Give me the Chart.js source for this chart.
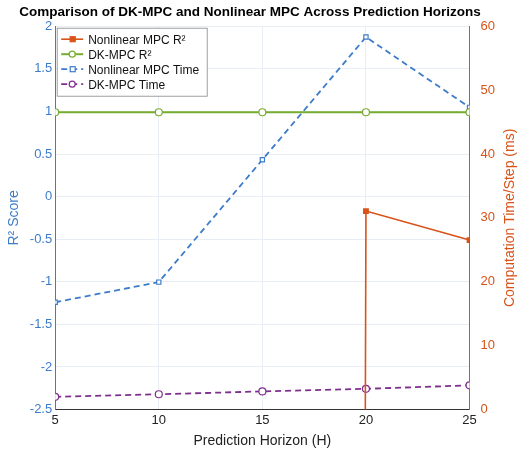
<!DOCTYPE html>
<html><head><meta charset="utf-8">
<script src="https://cdn.jsdelivr.net/npm/chart.js@4"></script>
<style>html,body{margin:0;padding:0;background:#fff}#w{width:520px;height:456px}</style>
</head><body><div id="w"><canvas id="c"></canvas></div>
<script>
const horizons = [5, 10, 15, 20, 25];
const nonlinearR2 = [null, null, -1000, -0.17, -0.51];
const dkR2 = [0.99, 0.99, 0.99, 0.99, 0.99];
const nonlinearTime = [16.8, 19.95, 39.1, 58.3, 47.3];
const dkTime = [2.0, 2.4, 2.85, 3.25, 3.8];
const legendNames = ['Nonlinear MPC R²', 'DK-MPC R²', 'Nonlinear MPC Time', 'DK-MPC Time'];
const rightTitle = 'Computation Time/Step (ms)';

const toPts = arr => horizons.map((x,i)=>({x, y:arr[i]}));
const F = 'Helvetica, "Liberation Sans", Arial, sans-serif';
const blue='#3d7cc9', orange='#d95319', green='#77ac30', purple='#7e2f8e';

const legendPlugin = {
  id:'boxLegend',
  afterDatasetsDraw(chart){
    const {ctx, chartArea:a} = chart;
    const x0=a.left+2, y0=a.top+2, w=150, h=68;
    ctx.save();
    ctx.fillStyle='#fff'; ctx.fillRect(x0,y0,w,h);
    ctx.strokeStyle='#888'; ctx.lineWidth=0.8; ctx.strokeRect(x0,y0,w,h);
    chart.data.datasets.forEach((ds,i)=>{
      const y=y0+11+i*15;
      ctx.strokeStyle=ds.borderColor; ctx.lineWidth=ds.borderWidth;
      ctx.setLineDash(ds.borderDash||[]);
      ctx.beginPath(); ctx.moveTo(x0+4,y); ctx.lineTo(x0+26,y); ctx.stroke();
      ctx.setLineDash([]);
      ctx.fillStyle=ds.pointBackgroundColor; ctx.lineWidth=1.2;
      if(ds.pointStyle==='rect'){ctx.fillRect(x0+13,y-2.5,5,5);ctx.strokeRect(x0+13,y-2.5,5,5);}
      else{ctx.beginPath();ctx.arc(x0+15,y,3,0,Math.PI*2);ctx.fill();ctx.stroke();}
      ctx.fillStyle='#111'; ctx.font='12px '+F; ctx.textBaseline='middle';
      ctx.fillText(legendNames[i], x0+31, y+1);
    });
    // right axis title, reading bottom-to-top
    ctx.save();
    ctx.translate(chart.width-10, (a.top+a.bottom)/2);
    ctx.rotate(-Math.PI/2);
    ctx.fillStyle=orange; ctx.font='14px '+F; ctx.textAlign='center'; ctx.textBaseline='middle';
    ctx.fillText(rightTitle,0,0);
    ctx.restore();
    ctx.restore();
  }
};
const fmt = v => String(Number(v.toFixed(2)));

new Chart(document.getElementById('c'), {
  type:'line',
  data:{datasets:[
    {label:legendNames[0], data:toPts(nonlinearR2), yAxisID:'y', borderColor:orange, backgroundColor:orange, pointBackgroundColor:orange, borderWidth:1.6, pointStyle:'rect', pointRadius:3},
    {label:legendNames[1], data:toPts(dkR2), yAxisID:'y', borderColor:green, backgroundColor:green, pointBackgroundColor:'#fff', borderWidth:2, pointStyle:'circle', pointRadius:3.5, pointBorderWidth:1.2},
    {label:legendNames[2], data:toPts(nonlinearTime), yAxisID:'y2', borderColor:blue, backgroundColor:blue, pointBackgroundColor:'#fff', borderWidth:1.8, borderDash:[6,4], pointStyle:'rect', pointRadius:3, pointBorderWidth:1.2},
    {label:legendNames[3], data:toPts(dkTime), yAxisID:'y2', borderColor:purple, backgroundColor:purple, pointBackgroundColor:'#fff', borderWidth:1.8, borderDash:[6,4], pointStyle:'circle', pointRadius:3.5, pointBorderWidth:1.2}
  ]},
  options:{
    responsive:true, maintainAspectRatio:false, animation:false,
    layout:{padding:{left:2,right:22,top:2,bottom:2}},
    plugins:{legend:{display:false}, tooltip:{enabled:false},
      title:{display:true, text:'Comparison of DK-MPC and Nonlinear MPC Across Prediction Horizons', font:{family:F,size:13.5,weight:'bold'}, color:'#000', padding:{top:2,bottom:6}}},
    scales:{
      x:{type:'linear', min:5, max:25, ticks:{stepSize:5, color:'#222', font:{family:F,size:13}},
        grid:{color:'#e8eef4', drawTicks:false}, border:{color:'#333'},
        title:{display:true, text:'Prediction Horizon (H)', color:'#222', font:{family:F,size:14}, padding:{top:2}}},
      y:{position:'left', min:-2.5, max:2, ticks:{stepSize:0.5, color:blue, font:{family:F,size:13}, callback:fmt},
        grid:{color:'#e8eef4', drawTicks:false}, border:{color:blue},
        title:{display:true, text:'R² Score', color:blue, font:{family:F,size:14}}},
      y2:{position:'right', min:0, max:60, ticks:{stepSize:10, color:orange, font:{family:F,size:13}},
        grid:{display:false}, border:{color:orange}}
    }
  },
  plugins:[legendPlugin]
});
</script></body></html>
